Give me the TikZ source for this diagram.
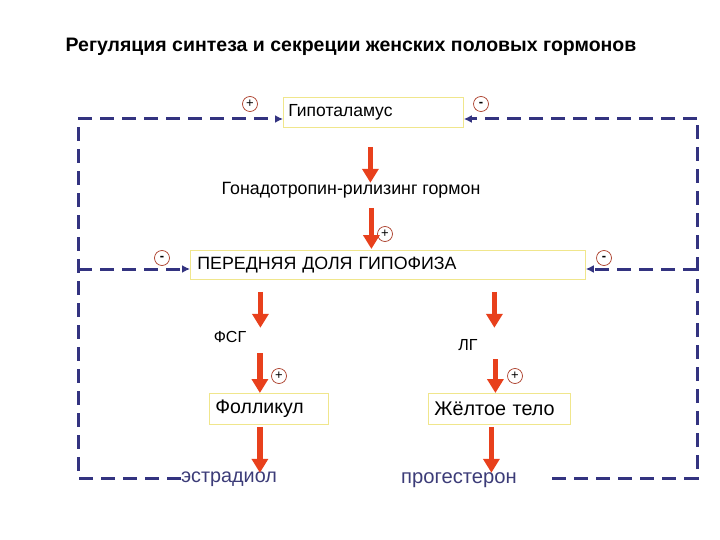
\documentclass[tikz,border=0pt]{standalone}
\usepackage{fontspec}
\setmainfont{Liberation Sans}
\usetikzlibrary{arrows.meta,calc}
\definecolor{navy}{RGB}{51,51,128}
\definecolor{redarr}{RGB}{232,64,28}
\definecolor{boxy}{RGB}{240,230,140}
\definecolor{circr}{RGB}{170,60,40}
\definecolor{txtblue}{RGB}{60,60,120}
\tikzset{
  box/.style={draw=boxy, line width=0.8pt, fill=white, align=left, anchor=north west, inner ysep=0pt},
  redarrow/.style={draw=redarr, line width=5.5pt, -{Triangle[width=16pt,length=14pt]}},
  dashline/.style={draw=navy, line width=3pt, dash pattern=on 14pt off 8pt},
  dasharrow/.style={dashline, -{Latex[length=8pt,width=8pt]}},
  sign/.style={circle, draw=circr, line width=0.7pt, minimum size=15pt, inner sep=0pt, font=\fontsize{13}{13}\selectfont},
  lbl/.style={font=\fontsize{16}{16}\selectfont, inner sep=0pt},
}
\begin{document}
\begin{tikzpicture}[x=1pt,y=-1pt]
\useasboundingbox (0,0) rectangle (720,540);
\node[font=\fontsize{19.5}{19.5}\selectfont\bfseries, inner sep=0pt] (title) at (351,47) {Регуляция синтеза и секреции женских половых гормонов};
\node[box, text width=170pt, minimum height=30pt, inner xsep=5pt, font=\fontsize{17.5}{17.5}\selectfont] (hyp) at (283,97) {Гипоталамус};
\node[lbl, font=\fontsize{17.8}{17.8}\selectfont] (gnrh) at (351,190) {Гонадотропин-рилизинг гормон};
\node[box, text width=381pt, minimum height=29pt, inner xsep=7pt, font=\fontsize{17.8}{17.8}\selectfont] (pit) at (190,250) {ПЕРЕДНЯЯ ДОЛЯ ГИПОФИЗА};
\node[lbl] (fsh) at (230,337) {ФСГ};
\node[lbl] (lh) at (468,345) {ЛГ};
\node[box, text width=107pt, minimum height=31pt, inner xsep=6pt, font=\fontsize{19.5}{19.5}\selectfont] (fol) at (209,393) {Фолликул};
\node[box, text width=130pt, minimum height=31pt, inner xsep=6pt, font=\fontsize{19.8}{19.8}\selectfont] (cl) at (428,393) {Жёлтое тело};
\node[lbl, font=\fontsize{19.8}{19.8}\selectfont, text=txtblue] (estr) at (229,479) {эстрадиол};
\node[lbl, font=\fontsize{20.2}{20.2}\selectfont, text=txtblue, fill=white, inner xsep=3pt, inner ysep=3pt] (prog) at (459,480) {прогестерон};
% signs
\node[sign] (s1) at (250,104) {+};
\node[sign] (s2) at (481,104) {\textbf{-}};
\node[sign] (s3) at (385,234) {+};
\node[sign] (s4) at (162,258) {\textbf{-}};
\node[sign] (s5) at (604,258) {\textbf{-}};
\node[sign] (s6) at (279,376) {+};
\node[sign] (s7) at (515,376) {+};
% dashed feedback loops
\coordinate (bl) at (78,478);
\coordinate (tl) at (78,119);
\coordinate (ml) at (78,269);
\coordinate (br) at (697,478);
\coordinate (tr) at (697,119);
\coordinate (mr) at (697,269);
\coordinate (bstart) at (552,478);
\draw[dashline] (estr.west |- bl) -- (bl) -- (tl);
\draw[dasharrow] (tl) -- (hyp.west |- tl);
\draw[dasharrow] (ml) -- (pit.west |- ml);
\draw[dashline] (bstart) -- (br) -- (tr);
\draw[dasharrow] (tr) -- (hyp.east |- tr);
\draw[dasharrow] (mr) -- (pit.east |- mr);
% red arrows
\draw[redarrow] ($(hyp.south)+(-3,19)$) -- ($(hyp.south)+(-3,55)$);
\draw[redarrow] ($(pit.north)+(-16.5,-42)$) -- ($(pit.north)+(-16.5,-1)$);
\draw[redarrow] ($(pit.south)+(-127.5,12)$) -- ($(pit.south)+(-127.5,48)$);
\draw[redarrow] ($(pit.south)+(106.5,12)$) -- ($(pit.south)+(106.5,48)$);
\draw[redarrow] ($(fol.north)+(-9,-40)$) -- ($(fol.north)+(-9,0)$);
\draw[redarrow] ($(cl.north)+(-4,-34)$) -- ($(cl.north)+(-4,0)$);
\draw[redarrow] ($(fol.south)+(-9,2)$) -- ($(fol.south)+(-9,48)$);
\draw[redarrow] ($(cl.south)+(-8,2)$) -- ($(cl.south)+(-8,48)$);
\end{tikzpicture}
\end{document}
